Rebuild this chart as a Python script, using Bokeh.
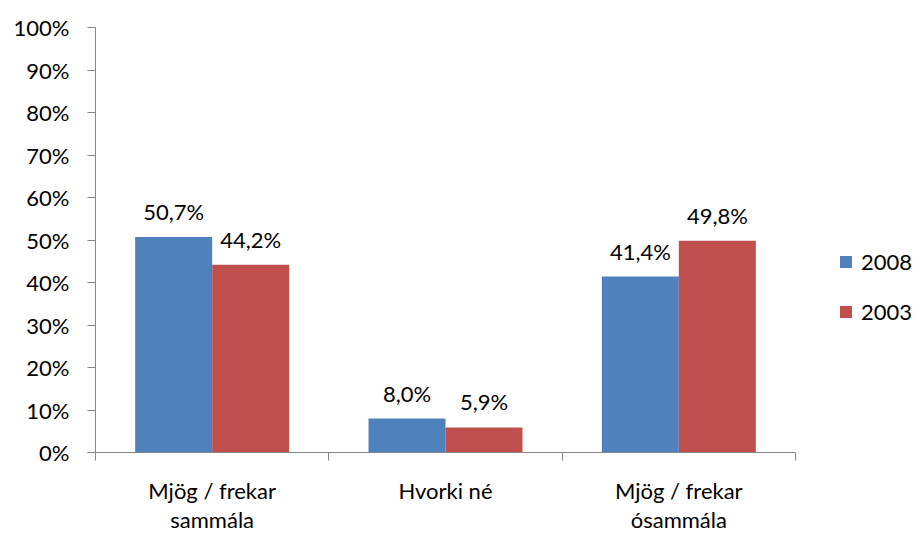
from bokeh.plotting import figure
from bokeh.models import FixedTicker, NumeralTickFormatter, ColumnDataSource, Legend, LegendItem
from bokeh.core.properties import value
from bokeh.embed import file_html
from bokeh.resources import INLINE

categories = ["Mjög / frekar\nsammála", "Hvorki né", "Mjög / frekar\nósammála"]
series_names = ["2008", "2003"]
values_2008 = [50.7, 8.0, 41.4]
values_2003 = [44.2, 5.9, 49.8]
colors = ["#4F81BD", "#C0504D"]
y_ticks = [0, 10, 20, 30, 40, 50, 60, 70, 80, 90, 100]

FONT = "Lato"
FS = "22px"

W, H = 914, 536
LEFT, RIGHT, TOP, BOTTOM = 95, 0, 27, 81
AXIS_PX = 700  # pixel length of the category axis
n = len(categories)
x_end = n * (W - LEFT - RIGHT) / AXIS_PX

p = figure(width=W, height=H, x_range=(0, x_end), y_range=(0, 1),
           output_backend="svg", toolbar_location=None,
           min_border_left=LEFT, min_border_right=RIGHT, min_border_top=TOP, min_border_bottom=BOTTOM)
p.outline_line_color = None
p.xgrid.visible = False
p.ygrid.visible = False
p.background_fill_color = "white"

bw = 0.33
idx = list(range(n))
renderers = []
for k, (vals, col) in enumerate(zip([values_2008, values_2003], colors)):
    off = -bw / 2 if k == 0 else bw / 2
    src = ColumnDataSource(dict(
        x=[i + 0.5 + off for i in idx],
        top=[v / 100 for v in vals],
        lab=[("%.1f%%" % v).replace(".", ",") for v in vals],
    ))
    r = p.vbar(x="x", top="top", width=bw, source=src, fill_color=col, line_color=None)
    renderers.append(r)
    p.text(x="x", y="top", text="lab", source=src, text_align="center", text_baseline="bottom",
           y_offset=-12, text_font=value(FONT), text_font_size=value(FS), text_color="black")

# y axis
p.yaxis.ticker = FixedTicker(ticks=[t / 100 for t in y_ticks], minor_ticks=[])
p.yaxis.formatter = NumeralTickFormatter(format="0%")
p.yaxis.axis_line_color = "#868686"
p.yaxis.major_tick_line_color = "#868686"
p.yaxis.major_tick_in = 0
p.yaxis.major_tick_out = 8
p.yaxis.minor_tick_line_color = None
p.yaxis.major_label_standoff = 18
p.yaxis.major_label_text_font = FONT
p.yaxis.major_label_text_font_size = FS
p.yaxis.major_label_text_color = "black"

# x axis
p.xaxis.bounds = (0, n)
p.xaxis.ticker = FixedTicker(ticks=[i + 0.5 for i in idx], minor_ticks=[i for i in range(n + 1)])
p.xaxis.major_label_overrides = {i + 0.5: c for i, c in zip(idx, categories)}
p.xaxis.axis_line_color = "#868686"
p.xaxis.major_tick_line_color = None
p.xaxis.major_tick_in = 0
p.xaxis.major_tick_out = 0
p.xaxis.minor_tick_line_color = "#868686"
p.xaxis.minor_tick_in = 0
p.xaxis.minor_tick_out = 8
p.xaxis.major_label_standoff = 16
p.xaxis.major_label_text_font = FONT
p.xaxis.major_label_text_font_size = FS
p.xaxis.major_label_text_color = "black"
p.xaxis.major_label_text_line_height = 1.1

legend = Legend(items=[LegendItem(label=s, renderers=[r]) for s, r in zip(series_names, renderers)],
                location=(743, 127), orientation="vertical")
legend.glyph_width = 15
legend.glyph_height = 15
legend.label_standoff = 8
legend.spacing = 23
legend.padding = 0
legend.margin = 0
legend.border_line_color = None
legend.background_fill_alpha = 0
legend.label_text_font = FONT
legend.label_text_font_size = FS
legend.label_text_color = "black"
p.add_layout(legend, "center")

open("out.html", "w").write(file_html(p, INLINE))
